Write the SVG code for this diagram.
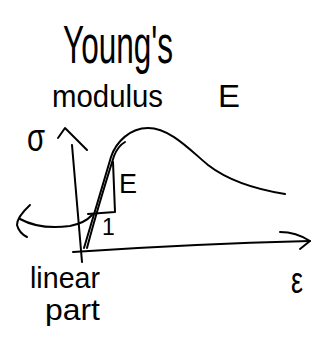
<svg xmlns="http://www.w3.org/2000/svg" width="321" height="339" viewBox="0 0 321 339">
<style>
.s{fill:none;stroke:#000;stroke-width:2;stroke-linecap:round;stroke-linejoin:round}
.t{font-family:"Liberation Sans","DejaVu Sans",sans-serif;fill:#000}
</style>
<rect width="321" height="339" fill="#fff"/>
<g id="title">
<text class="t" x="63" y="63" font-size="54" textLength="110" lengthAdjust="spacingAndGlyphs">Young's</text>
<text class="t" x="52" y="107" font-size="32" textLength="111" lengthAdjust="spacingAndGlyphs">modulus</text>
<text class="t" x="218" y="107" font-size="32" textLength="22" lengthAdjust="spacingAndGlyphs">E</text>
</g>
<g id="axes">
<path class="s" d="M72,145 L82,262"/>
<path class="s" d="M58,138 L65,128 L87,150"/>
<path class="s" d="M73,252 Q190,244 310,241"/>
<path class="s" d="M280,232 Q296,232 310,241 L300,249"/>
<text class="t" x="27" y="151" font-size="38" textLength="18" lengthAdjust="spacingAndGlyphs">σ</text>
<text class="t" x="291" y="293" font-size="36" textLength="12" lengthAdjust="spacingAndGlyphs">ε</text>
</g>
<g id="curve">
<path class="s" d="M84,248 L111,157 C116,142 130,128 148,128 C170,128 190,150 208,165 C230,182 260,190 285,194"/>
<path class="s" d="M87,248 Q97,210 114,156 Q118,146 125,142"/>
</g>
<g id="slope">
<path class="s" d="M113,162 L115,212 L88,214"/>
<text class="t" x="119" y="193" font-size="28" textLength="18" lengthAdjust="spacingAndGlyphs">E</text>
<text class="t" x="102" y="235" font-size="23">1</text>
</g>
<g id="linear-label">
<path class="s" d="M30,205 Q17,217 17,225 Q19,233 27,237"/>
<path class="s" d="M20,219 Q40,230 70,226 Q85,223 92,215"/>
<text class="t" x="30" y="288" font-size="30" textLength="70" lengthAdjust="spacingAndGlyphs">linear</text>
<text class="t" x="45" y="320" font-size="30" textLength="55" lengthAdjust="spacingAndGlyphs">part</text>
</g>
</svg>
